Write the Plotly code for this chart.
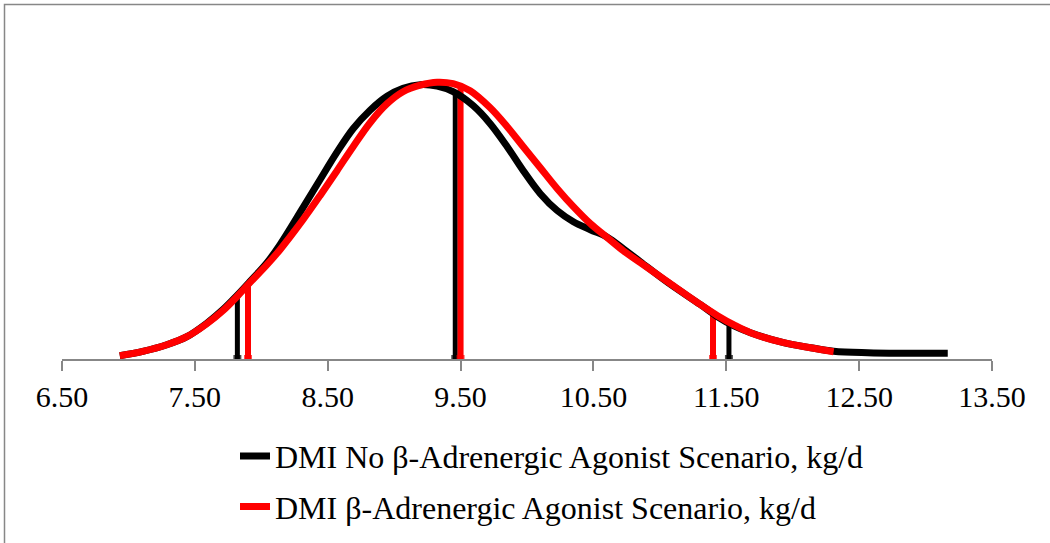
import plotly.graph_objects as go

# --- data ---
# DMI, kg/d  vs  relative density (no y scale shown)
no_baa_x = [6.935, 7.108, 7.289, 7.440, 7.590, 7.711, 7.816, 7.914, 8.043, 8.141, 8.314, 8.442,
            8.570, 8.691, 8.819, 8.947, 9.067, 9.196, 9.324, 9.444, 9.595, 9.723, 9.851, 9.972,
            10.100, 10.228, 10.349, 10.477, 10.605, 10.725, 10.853, 11.057, 11.306, 11.434,
            11.554, 11.682, 11.931, 12.135, 12.308, 12.564, 12.813, 13.167]
no_baa_y = [0.0055, 0.0127, 0.0238, 0.0372, 0.0597, 0.0822, 0.1055, 0.1288, 0.1605, 0.1905,
            0.2522, 0.2988, 0.3447, 0.3838, 0.4147, 0.4380, 0.4513, 0.4572, 0.4547, 0.4455,
            0.4222, 0.3922, 0.3538, 0.3138, 0.2755, 0.2472, 0.2288, 0.2155, 0.2030, 0.1838,
            0.1622, 0.1280, 0.0905, 0.0705, 0.0555, 0.0438, 0.0272, 0.0188, 0.0130, 0.0105,
            0.0097, 0.0097]

baa_x = [6.935, 7.108, 7.289, 7.440, 7.590, 7.711, 7.816, 7.914, 8.043, 8.141, 8.314, 8.442,
         8.570, 8.691, 8.819, 8.947, 9.067, 9.196, 9.324, 9.444, 9.572, 9.723, 9.851, 9.972,
         10.100, 10.228, 10.349, 10.477, 10.605, 10.725, 10.853, 11.057, 11.306, 11.434,
         11.554, 11.682, 11.931, 12.135, 12.308]
baa_y = [0.0055, 0.0127, 0.0238, 0.0372, 0.0588, 0.0805, 0.1038, 0.1272, 0.1572, 0.1822,
         0.2322, 0.2722, 0.3138, 0.3538, 0.3938, 0.4255, 0.4455, 0.4563, 0.4613, 0.4588,
         0.4472, 0.4188, 0.3872, 0.3538, 0.3188, 0.2838, 0.2538, 0.2255, 0.2022, 0.1805,
         0.1605, 0.1288, 0.0905, 0.0722, 0.0572, 0.0438, 0.0272, 0.0188, 0.0122]

# reference markers (lower limit, mean, upper limit) and the curve height at each
no_baa_ref_x = [7.82, 9.46, 11.52]
no_baa_ref_h = [0.104, 0.443, 0.056]
baa_ref_x = [7.90, 9.50, 11.40]
baa_ref_h = [0.122, 0.455, 0.072]

tick_vals = [6.5, 7.5, 8.5, 9.5, 10.5, 11.5, 12.5, 13.5]

names = ["DMI No β-Adrenergic Agonist Scenario, kg/d",
         "DMI β-Adrenergic Agonist Scenario, kg/d"]
colors = ["#000000", "#FF0000"]


def drops(xs, hs):
    px, py = [], []
    for x, h in zip(xs, hs):
        px += [x, x, None]
        py += [0, h, None]
    return px, py


fig = go.Figure()

for xs, hs, c, w in [(no_baa_ref_x, no_baa_ref_h, colors[0], 5),
                     (baa_ref_x, baa_ref_h, colors[1], 6)]:
    dx, dy = drops(xs, hs)
    fig.add_trace(go.Scatter(x=dx, y=dy, mode="lines", showlegend=False,
                             line=dict(color=c, width=w), hoverinfo="skip"))
    # small foot at the base of each drop line
    fig.add_trace(go.Scatter(x=xs, y=[0] * len(xs), mode="markers", showlegend=False,
                             marker=dict(symbol="square", size=[8] * len(xs), color=c,
                                         line=dict(width=0)),
                             cliponaxis=True, hoverinfo="skip"))

fig.add_trace(go.Scatter(x=no_baa_x, y=no_baa_y, mode="lines", name=names[0],
                         line=dict(color=colors[0], width=7, shape="spline", smoothing=1.0),
                         legendgroup="a"))
fig.add_trace(go.Scatter(x=baa_x, y=baa_y, mode="lines", name=names[1],
                         line=dict(color=colors[1], width=7, shape="spline", smoothing=1.0),
                         legendgroup="b"))

fig.add_shape(type="rect", xref="paper", yref="paper",
              x0=(4.5 - 62) / 930, x1=(1070 - 62) / 930,
              y0=(359 - 570) / 300, y1=(359 - 4.5) / 300,
              line=dict(color="#878787", width=1.5), layer="below")

fig.update_layout(
    width=1050, height=543,
    margin=dict(l=62, r=58, t=59, b=184, autoexpand=False),
    paper_bgcolor="white", plot_bgcolor="white",
    font=dict(family="Liberation Serif, Times New Roman, serif", size=30, color="black"),
    xaxis=dict(range=[6.5, 13.5], tickvals=tick_vals, tickformat=".2f",
               showgrid=False, zeroline=False, showline=True, linecolor="#878787", linewidth=1.5,
               ticks="outside", ticklen=10, tickcolor="#878787", tickwidth=1.5,
               tickfont=dict(size=30)),
    yaxis=dict(range=[0, 0.5], visible=False, showgrid=False, zeroline=False),
    legend=dict(x=(235 - 62) / 930, xanchor="left", y=-0.232, yanchor="top",
                orientation="v", tracegroupgap=6, font=dict(size=32),
                bgcolor="rgba(0,0,0,0)"),
    showlegend=True,
)

fig.write_html("out.html")
